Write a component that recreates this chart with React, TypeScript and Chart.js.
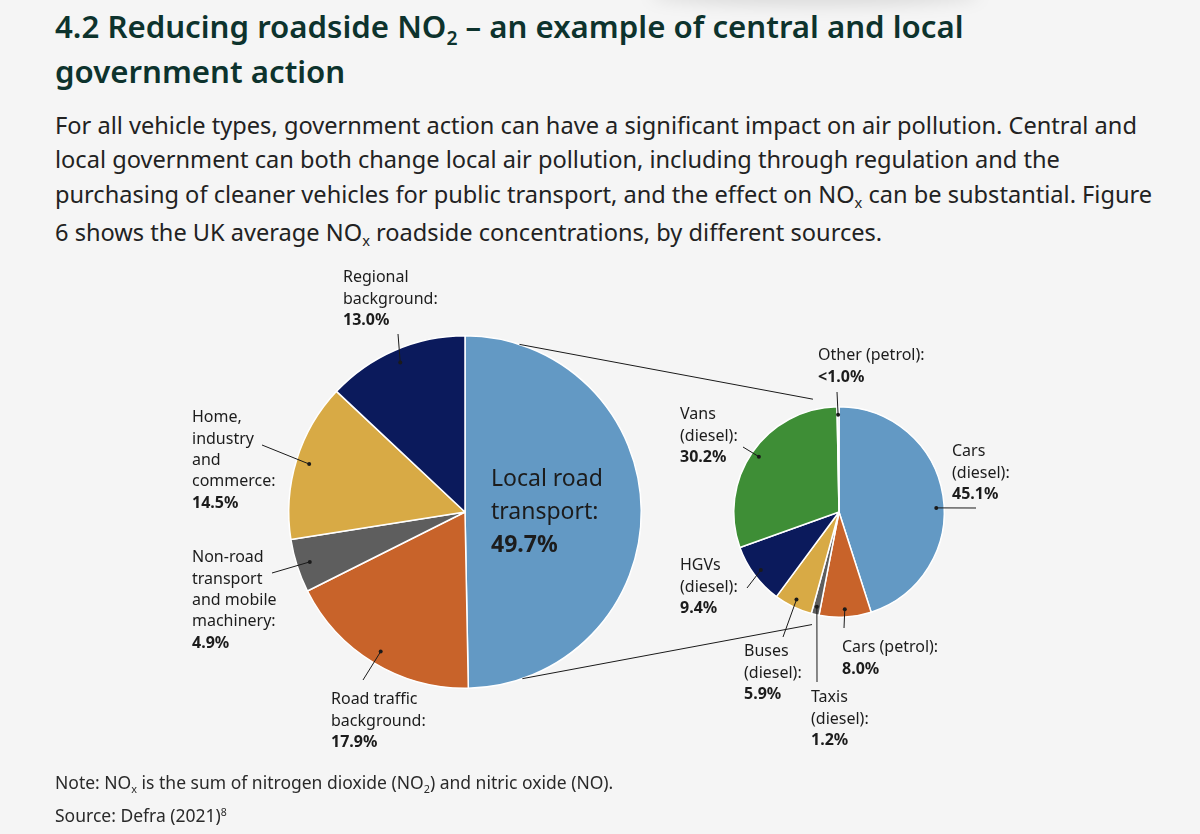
import React, { useEffect, useRef } from "react";
import { Chart, registerables } from "chart.js";

Chart.register(...registerables);

// ---------- DATA ----------
const mainCategories = [
  "Local road transport",
  "Road traffic background",
  "Non-road transport and mobile machinery",
  "Home, industry and commerce",
  "Regional background",
];
const mainValues = [49.7, 17.9, 4.9, 14.5, 13.0];
const mainLabelLines = [
  ["Local road", "transport:"],
  ["Road traffic", "background:"],
  ["Non-road", "transport", "and mobile", "machinery:"],
  ["Home,", "industry", "and", "commerce:"],
  ["Regional", "background:"],
];

const roadCategories = [
  "Cars (diesel)",
  "Cars (petrol)",
  "Taxis (diesel)",
  "Buses (diesel)",
  "HGVs (diesel)",
  "Vans (diesel)",
  "Other (petrol)",
];
const roadValues = [45.1, 8.0, 1.2, 5.9, 9.4, 30.2, 0.3];
const roadValueText = ["45.1%", "8.0%", "1.2%", "5.9%", "9.4%", "30.2%", "<1.0%"];
const roadLabelLines = [
  ["Cars", "(diesel):"],
  ["Cars (petrol):"],
  ["Taxis", "(diesel):"],
  ["Buses", "(diesel):"],
  ["HGVs", "(diesel):"],
  ["Vans", "(diesel):"],
  ["Other (petrol):"],
];

// ---------- STYLE / LAYOUT ----------
const BLUE = "#6399c4";
const ORANGE = "#c8632a";
const GREY = "#5e5e5e";
const GOLD = "#d8aa45";
const NAVY = "#0b1a5c";
const GREEN = "#3e8e36";
const LAVENDER = "#c6c0e6";

const mainColors = [BLUE, ORANGE, GREY, GOLD, NAVY];
const roadColors = [BLUE, ORANGE, GREY, GOLD, NAVY, GREEN, LAVENDER];

const BG = "#f5f5f5";
const TEXT = "#1c1c1c";
const FONT = '"Noto Sans", "Open Sans", sans-serif';

const CANVAS_TOP = 250;
const CANVAS_W = 1200;
const CANVAS_H = 520;

// label positions (page coords: left, first-line centre y)
const mainLabelPos = [
  { x: 491, y: 477 },
  { x: 331, y: 699 },
  { x: 192, y: 557 },
  { x: 192, y: 417 },
  { x: 343, y: 277 },
];
// label-side end of leader lines (page coords); null = no leader
const mainLeaderEnds = [null, { x: 363, y: 680 }, { x: 272, y: 573 }, { x: 262, y: 445 }, { x: 398, y: 334 }];
const mainAngleFrac = [0.5, 0.5, 0.5, 0.5, 0.5];

const roadLabelPos = [
  { x: 952, y: 451 },
  { x: 842, y: 647 },
  { x: 811, y: 697 },
  { x: 744, y: 651 },
  { x: 680, y: 565 },
  { x: 680, y: 414 },
  { x: 818, y: 355 },
];
const roadLeaderEnds = [
  { x: 976, y: 508 },
  { x: 844, y: 628 },
  { x: 817, y: 682 },
  { x: 783, y: 637 },
  { x: 747, y: 588 },
  { x: 743, y: 447 },
  { x: 837, y: 392 },
];
const roadAngleFrac = [0.54, 0.5, 0.5, 0.5, 0.5, 0.5, 0.5];

function makeLeaderPlugin(ends: any[], angleFrac: number[]) {
  return {
    id: "leaders",
    afterDatasetsDraw(chart: any) {
      const ctx = chart.ctx;
      const arcs = chart.getDatasetMeta(0).data;
      ctx.save();
      ctx.strokeStyle = "#1a1a1a";
      ctx.fillStyle = "#1a1a1a";
      ctx.lineWidth = 1;
      arcs.forEach((arc: any, i: number) => {
        const end = ends[i];
        if (!end) return;
        const p = arc.getProps(["x", "y", "startAngle", "endAngle", "outerRadius"], true);
        const ang = p.startAngle + (p.endAngle - p.startAngle) * angleFrac[i];
        const r = p.outerRadius * 0.925;
        const px = p.x + Math.cos(ang) * r;
        const py = p.y + Math.sin(ang) * r;
        ctx.beginPath();
        ctx.moveTo(end.x, end.y - CANVAS_TOP);
        ctx.lineTo(px, py);
        ctx.stroke();
        ctx.beginPath();
        ctx.arc(px, py, 2, 0, Math.PI * 2);
        ctx.fill();
      });
      ctx.restore();
    },
  };
}

function pt(arc: any, deg: number, scale: number) {
  const p = arc.getProps(["x", "y", "outerRadius"], true);
  const a = (deg * Math.PI) / 180 - Math.PI / 2;
  return { x: p.x + Math.cos(a) * p.outerRadius * scale, y: p.y + Math.sin(a) * p.outerRadius * scale };
}

function Label({ x, y, lines, value, size = 16, lh = 21.3 }: any) {
  return (
    <div
      style={{
        position: "absolute",
        left: x,
        top: y - lh / 2,
        fontFamily: FONT,
        fontSize: size,
        lineHeight: lh + "px",
        color: TEXT,
        whiteSpace: "nowrap",
        zIndex: 3,
      }}
    >
      {lines.map((l: string, i: number) => (
        <div key={i}>{l}</div>
      ))}
      <div style={{ fontWeight: 700 }}>{value}</div>
    </div>
  );
}

const sub = (t: string) => (
  <span style={{ fontSize: "0.62em", position: "relative", top: "0.38em" }}>{t}</span>
);

export default function App() {
  const leftRef = useRef<HTMLCanvasElement | null>(null);
  const rightRef = useRef<HTMLCanvasElement | null>(null);

  useEffect(() => {
    if (!leftRef.current || !rightRef.current) return;

    const leftChart = new Chart(leftRef.current, {
      type: "pie",
      data: {
        labels: mainCategories,
        datasets: [
          {
            data: mainValues,
            backgroundColor: mainColors,
            borderColor: "#ffffff",
            borderWidth: 1.5,
          },
        ],
      },
      options: {
        responsive: false,
        maintainAspectRatio: false,
        devicePixelRatio: 1,
        animation: false,
        layout: { padding: { left: 288, right: 558, top: 85, bottom: 81 } },
        plugins: { legend: { display: false }, tooltip: { enabled: false } },
      },
      plugins: [makeLeaderPlugin(mainLeaderEnds, mainAngleFrac)],
    } as any);

    const connectorPlugin = {
      id: "connectors",
      beforeDatasetsDraw(chart: any) {
        const la = leftChart.getDatasetMeta(0).data[0];
        const ra = chart.getDatasetMeta(0).data[0];
        if (!la || !ra) return;
        const ctx = chart.ctx;
        ctx.save();
        ctx.strokeStyle = "#1a1a1a";
        ctx.lineWidth = 1;
        const pairs = [
          [pt(la, 18, 1.0), pt(ra, -13, 1.1)],
          [pt(la, 161, 1.0), pt(ra, 193.5, 1.1)],
        ];
        pairs.forEach(([a, b]) => {
          ctx.beginPath();
          ctx.moveTo(a.x, a.y);
          ctx.lineTo(b.x, b.y);
          ctx.stroke();
        });
        ctx.restore();
      },
    };

    const rightChart = new Chart(rightRef.current, {
      type: "pie",
      data: {
        labels: roadCategories,
        datasets: [
          {
            data: roadValues,
            backgroundColor: roadColors,
            borderColor: "#ffffff",
            borderWidth: 1.5,
          },
        ],
      },
      options: {
        responsive: false,
        maintainAspectRatio: false,
        devicePixelRatio: 1,
        animation: false,
        layout: { padding: { left: 733, right: 255, top: 156, bottom: 152 } },
        plugins: { legend: { display: false }, tooltip: { enabled: false } },
      },
      plugins: [connectorPlugin, makeLeaderPlugin(roadLeaderEnds, roadAngleFrac)],
    } as any);

    return () => {
      rightChart.destroy();
      leftChart.destroy();
    };
  }, []);

  const canvasStyle: React.CSSProperties = {
    position: "absolute",
    left: 0,
    top: CANVAS_TOP,
    width: CANVAS_W,
    height: CANVAS_H,
  };

  return (
    <div
      style={{
        position: "absolute",
        left: 0,
        top: 0,
        width: 1200,
        height: 834,
        background: BG,
        overflow: "hidden",
        fontFamily: FONT,
      }}
    >
      <div
        style={{
          position: "absolute",
          left: 650,
          top: -16,
          width: 330,
          height: 22,
          borderRadius: "50%",
          background: "rgba(0,0,0,0.10)",
          filter: "blur(8px)",
        }}
      />
      <div
        style={{
          position: "absolute",
          left: 55,
          top: 6,
          fontSize: 31.2,
          fontWeight: 600,
          lineHeight: "41px",
          color: "#0d332d",
          whiteSpace: "nowrap",
        }}
      >
        4.2 Reducing roadside NO{sub("2")} – an example of central and local
        <br />
        government action
      </div>
      <div
        style={{
          position: "absolute",
          left: 55,
          top: 107.5,
          fontSize: 23.6,
          lineHeight: "34.7px",
          color: "#222",
          whiteSpace: "nowrap",
        }}
      >
        For all vehicle types, government action can have a significant impact on air pollution. Central and
        <br />
        local government can both change local air pollution, including through regulation and the
        <br />
        purchasing of cleaner vehicles for public transport, and the effect on NO{sub("x")} can be substantial. Figure
        <br />6 shows the UK average NO{sub("x")} roadside concentrations, by different sources.
      </div>

      <canvas ref={leftRef} width={CANVAS_W} height={CANVAS_H} style={canvasStyle} />
      <canvas ref={rightRef} width={CANVAS_W} height={CANVAS_H} style={canvasStyle} />

      {mainLabelLines.map((lines, i) =>
        i === 0 ? (
          <Label
            key={"m" + i}
            x={mainLabelPos[i].x}
            y={mainLabelPos[i].y}
            lines={lines}
            value={mainValues[i].toFixed(1) + "%"}
            size={23}
            lh={33}
          />
        ) : (
          <Label
            key={"m" + i}
            x={mainLabelPos[i].x}
            y={mainLabelPos[i].y}
            lines={lines}
            value={mainValues[i].toFixed(1) + "%"}
          />
        )
      )}
      {roadLabelLines.map((lines, i) => (
        <Label key={"r" + i} x={roadLabelPos[i].x} y={roadLabelPos[i].y} lines={lines} value={roadValueText[i]} />
      ))}

      <div
        style={{
          position: "absolute",
          left: 55,
          top: 767,
          fontSize: 17.5,
          lineHeight: "30px",
          color: "#2a2a2a",
          whiteSpace: "nowrap",
        }}
      >
        Note: NO{sub("x")} is the sum of nitrogen dioxide (NO{sub("2")}) and nitric oxide (NO).
        <br />
        Source: Defra (2021)<span style={{ fontSize: "0.6em", position: "relative", top: "-0.6em" }}>8</span>
      </div>
    </div>
  );
}
